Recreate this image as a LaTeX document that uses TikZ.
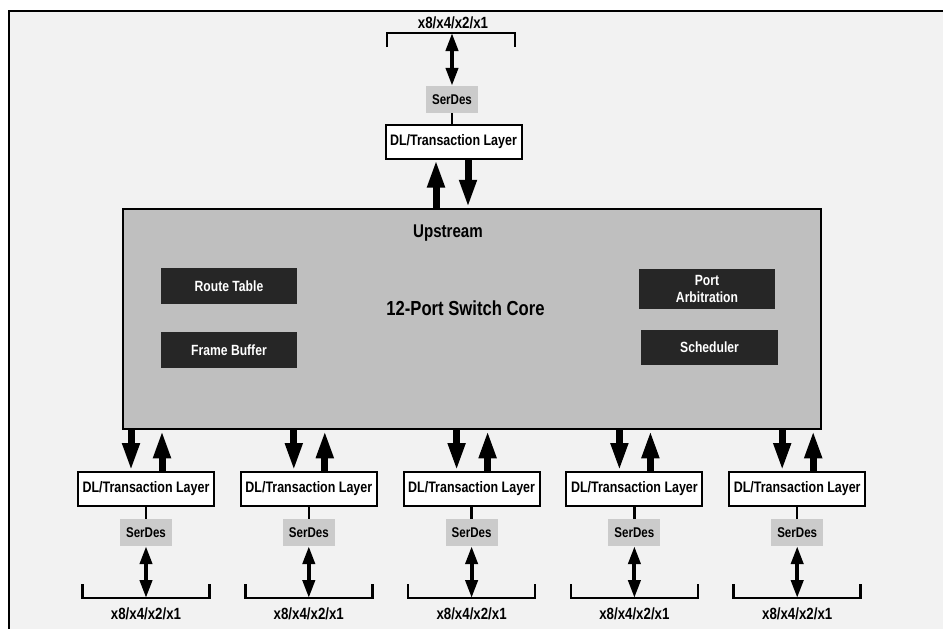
\documentclass[tikz,border=0pt]{standalone}
\usepackage{fontspec}
\setmainfont{Liberation Sans}[FakeStretch=0.82]
\usetikzlibrary{arrows.meta}
\definecolor{bg}{HTML}{F2F2F2}
\definecolor{coregray}{HTML}{BFBFBF}
\definecolor{darkfill}{HTML}{262626}
\definecolor{serdesgray}{HTML}{CBCBCB}
\begin{document}
\begin{tikzpicture}[x=1pt,y=-1pt,
  every node/.style={font=\bfseries},
  frameline/.style={line width=2pt},
  corebox/.style={draw, line width=2.5pt, fill=coregray, minimum width=698pt, minimum height=220pt, inner sep=0pt},
  darkbox/.style={fill=darkfill, text=white, inner sep=0pt, align=center, font=\bfseries\fontsize{14.8}{17}\selectfont},
  dlbox/.style={draw, line width=2pt, fill=white, minimum width=136pt, minimum height=34pt, inner sep=0pt, font=\bfseries\fontsize{15.2}{17}\selectfont},
  serdes/.style={fill=serdesgray, minimum width=52pt, minimum height=27pt, inner sep=0pt, font=\bfseries\fontsize{14.1}{16}\selectfont},
  lanelabel/.style={inner sep=0pt, font=\bfseries\fontsize{16.2}{18}\selectfont},
  corelabel/.style={inner sep=0pt},
  bigarrow/.style={line width=7pt, -{Triangle[width=16pt,length=28pt]}},
  dblarrow/.style={line width=4pt, {Triangle[width=12pt,length=18pt]}-{Triangle[width=12pt,length=18pt]}},
  link/.style={line width=2.5pt},
  bracket/.style={line width=2.5pt},
]
\useasboundingbox (0,0) rectangle (943,629);
\fill[white] (0,0) rectangle (943,629);
\fill[bg] (9,11) rectangle (943,629);
\draw[frameline] (9,629) -- (9,11) -- (943,11);

% core
\node[corebox] (core) at (472,319) {};
\node[corelabel, font=\bfseries\fontsize{18.4}{21}\selectfont] (up) at (448,233) {Upstream};
\node[corelabel, font=\bfseries\fontsize{20.3}{23}\selectfont] (title) at (465.5,308) {12-Port Switch Core};
\node[darkbox, minimum width=136pt, minimum height=36pt] (rt) at (229,286) {Route Table};
\node[darkbox, minimum width=136pt, minimum height=36pt] (fb) at (229,350) {Frame Buffer};
\node[darkbox, minimum width=136pt, minimum height=40pt] (pa) at (707,289) {Port\\Arbitration};
\node[darkbox, minimum width=137pt, minimum height=35pt] (sc) at (709.5,347.5) {Scheduler};

% upstream port
\node[dlbox] (dlu) at (453.5,141.5) {DL/Transaction Layer};
\node[serdes] (sdu) at (452,99.5) {SerDes};
\coordinate (bku) at (452,33);
\node[lanelabel] (lnu) at (453,23) {x8/x4/x2/x1};
\draw[bigarrow] ([xshift=-17.5pt]dlu.south |- core.north) -- ([xshift=-17.5pt]dlu.south);
\draw[bigarrow] ([xshift=14.5pt]dlu.south) -- ([xshift=14.5pt]dlu.south |- core.north);
\draw[link] (sdu.south) -- (sdu.south |- dlu.north);
\draw[dblarrow] (bku) -- (sdu.north);
\draw[bracket] ([xshift=-65pt,yshift=-14pt]bku) -- ([xshift=-65pt]bku) -- ([xshift=63pt]bku) -- ([xshift=63pt,yshift=-14pt]bku);

% downstream ports
\foreach \i in {0,...,4}{
  \pgfmathsetmacro{\cx}{146+162.8*\i}
  \node[dlbox] (dl\i) at (\cx,489) {DL/Transaction Layer};
  \node[serdes] (sd\i) at (\cx,532.5) {SerDes};
  \coordinate (bk\i) at (\cx,598);
  \node[lanelabel] (ln\i) at (\cx,614) {x8/x4/x2/x1};
  \draw[bigarrow] ([xshift=-15pt]dl\i.north |- core.south) -- ([xshift=-15pt]dl\i.north);
  \draw[bigarrow] ([xshift=16pt]dl\i.north) -- ([xshift=16pt]dl\i.north |- core.south);
  \draw[link] (dl\i.south) -- (sd\i.north);
  \draw[dblarrow] (sd\i.south) -- (bk\i);
  \draw[bracket] ([xshift=-63.5pt,yshift=14pt]bk\i) -- ([xshift=-63.5pt]bk\i) -- ([xshift=63.5pt]bk\i) -- ([xshift=63.5pt,yshift=14pt]bk\i);
}
\end{tikzpicture}
\end{document}
